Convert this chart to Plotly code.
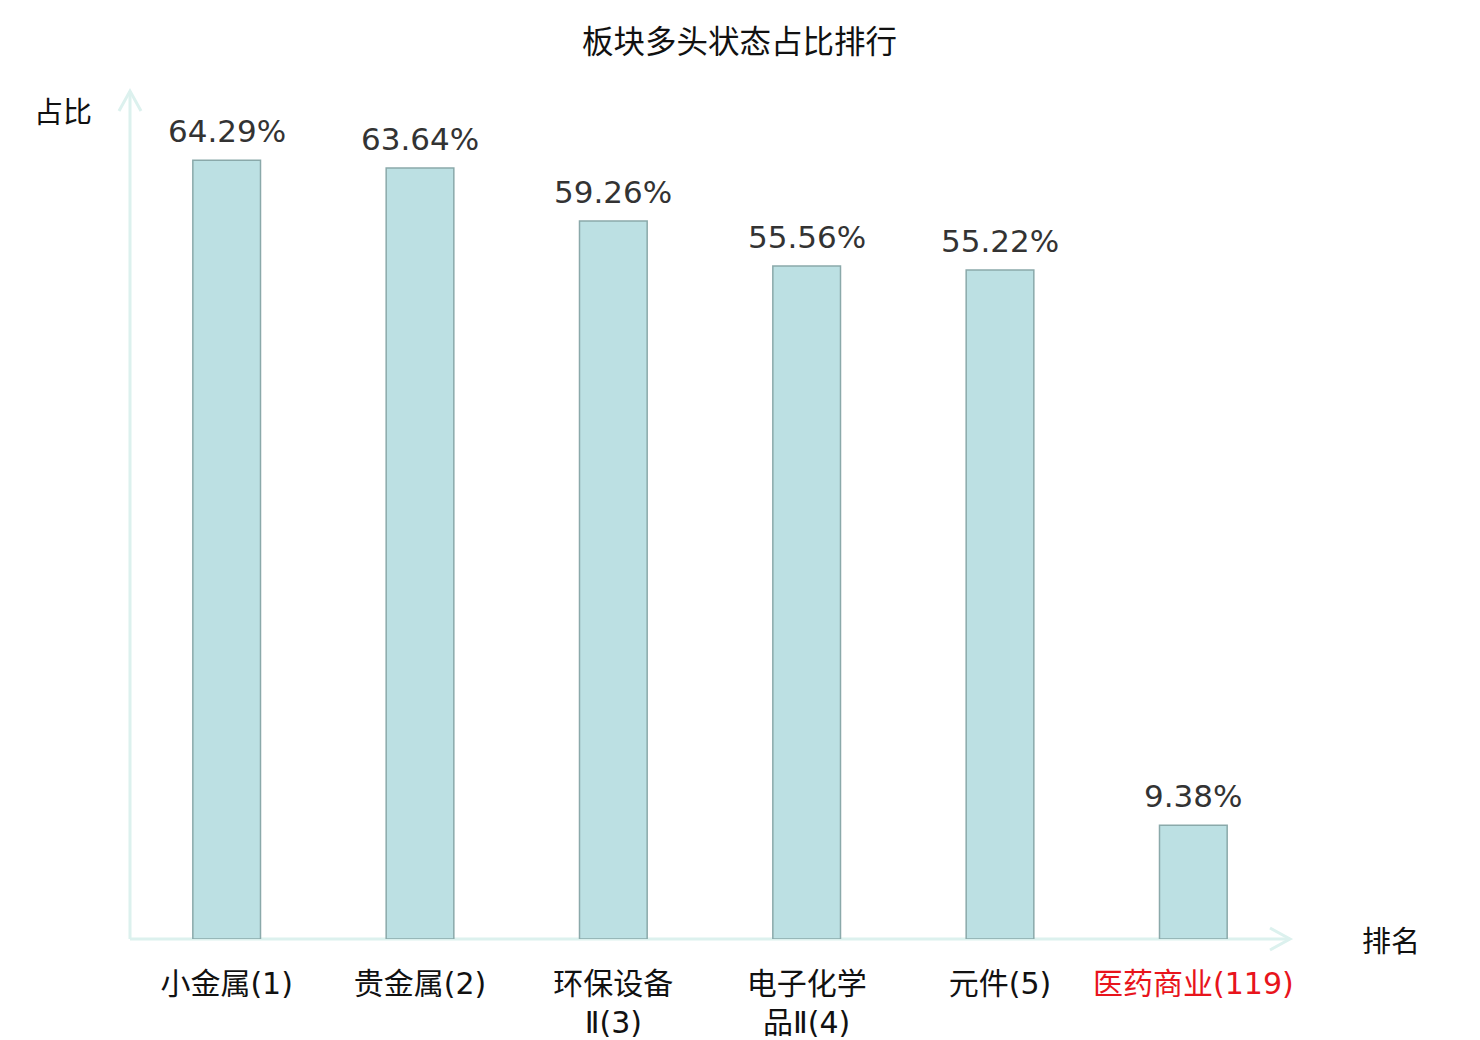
import plotly.graph_objects as go

# 数据
sectors = ["小金属(1)", "贵金属(2)", "环保设备<br>Ⅱ(3)", "电子化学<br>品Ⅱ(4)", "元件(5)",
           "<span style='color:#e8141c'>医药商业(119)</span>"]
ratios = [64.29, 63.64, 59.26, 55.56, 55.22, 9.38]
labels = ["64.29%", "63.64%", "59.26%", "55.56%", "55.22%", "9.38%"]

FONT = "DejaVu Sans, Noto Sans CJK SC, sans-serif"
CJK = "Noto Sans CJK SC, sans-serif"
AXIS_COLOR = "#dcf1ee"

xs = list(range(len(sectors)))

fig = go.Figure()
fig.add_trace(go.Bar(
    x=xs, y=ratios,
    marker=dict(color="#bce0e3", line=dict(color="#8aa9aa", width=1.5)),
    hoverinfo="skip",
))

# 数值标签
for xi, yi, lab in zip(xs, ratios, labels):
    fig.add_annotation(x=xi, y=yi, text=lab, showarrow=False, xanchor="center",
                       yanchor="bottom", yshift=9,
                       font=dict(size=31, color="#333333", family=FONT))

# 坐标轴带箭头
fig.add_shape(type="line", xref="paper", yref="paper", x0=0, y0=0, x1=1, y1=0,
              line=dict(color=AXIS_COLOR, width=3), layer="below")
fig.add_shape(type="line", xref="paper", yref="paper", x0=0, y0=0, x1=0, y1=1.0,
              line=dict(color=AXIS_COLOR, width=3), layer="below")
fig.add_shape(type="path", xref="paper", yref="paper", xsizemode="pixel", ysizemode="pixel",
              xanchor=1, yanchor=0, path="M -20 11 L 0 0 L -20 -11",
              line=dict(color=AXIS_COLOR, width=3))
fig.add_shape(type="path", xref="paper", yref="paper", xsizemode="pixel", ysizemode="pixel",
              xanchor=0, yanchor=1, path="M -11 -20 L 0 0 L 11 -20",
              line=dict(color=AXIS_COLOR, width=3))

fig.add_annotation(text="占比", xref="paper", yref="paper", x=-0.058, y=0.978,
                   xanchor="center", yanchor="middle", showarrow=False,
                   font=dict(size=29, color="#111111", family=CJK))
fig.add_annotation(text="排名", xref="paper", yref="paper", x=1.087, y=0.0,
                   xanchor="center", yanchor="middle", showarrow=False,
                   font=dict(size=29, color="#111111", family=CJK))

fig.update_layout(
    title=dict(text="板块多头状态占比排行", x=0.4943, xanchor="center",
               y=1 - 34 / 1040, yanchor="middle",
               font=dict(size=31.5, color="#111111", family=CJK)),
    width=1480, height=1040,
    margin=dict(l=122, r=198, t=83, b=109),
    paper_bgcolor="white", plot_bgcolor="white",
    bargap=0.65, showlegend=False,
    font=dict(family=FONT),
)
fig.update_xaxes(range=[-0.5, 5.5], tickmode="array", tickvals=xs,
                 ticktext=sectors, showgrid=False, zeroline=False, showline=False,
                 ticks="outside", ticklen=18, tickcolor="rgba(0,0,0,0)", automargin=False,
                 tickfont=dict(size=30, color="#111111", family=FONT))
fig.update_yaxes(range=[0, 70], showgrid=False, zeroline=False, showline=False,
                 showticklabels=False, automargin=False)

fig.write_html("out.html")
